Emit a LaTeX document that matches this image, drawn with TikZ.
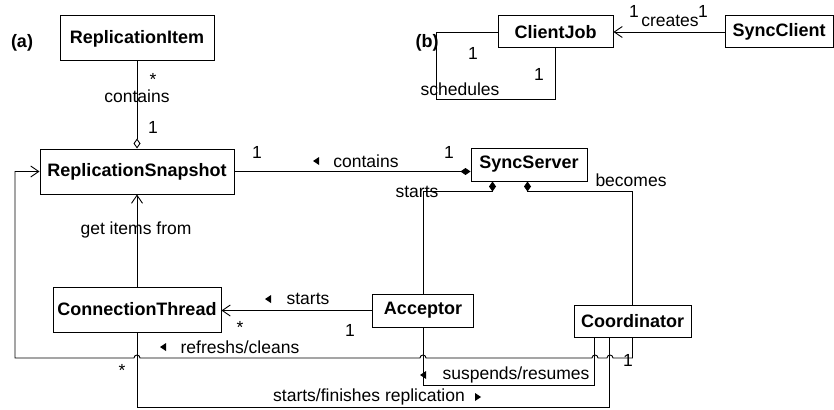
\documentclass[tikz,border=0pt]{standalone}
\usepackage{fontspec}
\setmainfont{Liberation Sans}
\usetikzlibrary{arrows.meta}
\begin{document}
\begin{tikzpicture}[x=1pt,y=-1pt,line width=0.9pt,
  cls/.style={draw,line width=1pt,inner sep=0pt,font=\fontsize{18}{20}\selectfont\bfseries},
  lbl/.style={inner sep=0pt,font=\fontsize{17.5}{20}\selectfont},
  tag/.style={inner sep=0pt,font=\fontsize{18}{20}\selectfont\bfseries},
  opena/.style={-{Straight Barb[length=8pt,width=11pt,line width=0.9pt]}},
  odia/.style={{Diamond[open,length=10pt,width=7pt,line width=0.9pt]}-},
  fdia/.style={{Diamond[length=10pt,width=7pt]}-},
  tri/.style={fill=black}]
\useasboundingbox (0,0) rectangle (834,409);

% classes
\node[cls,minimum width=154pt,minimum height=45pt] (item) at (137,38.5) {ReplicationItem};
\node[cls,minimum width=194pt,minimum height=45pt] (snap) at (137,171.5) {ReplicationSnapshot};
\node[cls,minimum width=168pt,minimum height=45pt] (conn) at (137,309.5) {ConnectionThread};
\node[cls,minimum width=116pt,minimum height=33pt] (sync) at (529,164.5) {SyncServer};
\node[cls,minimum width=101pt,minimum height=33pt] (acc) at (423,310.5) {Acceptor};
\node[cls,minimum width=117pt,minimum height=32pt] (coord) at (632.5,321) {Coordinator};
\node[cls,minimum width=115pt,minimum height=32pt] (cjob) at (555.5,32) {ClientJob};
\node[cls,minimum width=108pt,minimum height=32pt] (sclient) at (779,32) {SyncClient};

% panel tags
\node[tag] (ta) at (22,43) {(a)};
\node[tag] (tb) at (427,43) {(b)};

% connectors
\draw[odia] (snap.north) -- (item.south);
\draw[fdia] (snap.east -| sync.west) -- (snap.east);
\draw[fdia] ([xshift=22pt]sync.south west) -- ++(0,10) -| (acc.north);
\draw[fdia] ([xshift=57pt]sync.south west) -- ++(0,10) -| (coord.north);
\draw[opena] (conn.north) -- (snap.south);
\draw[opena] (acc.west) -- (acc.west -| conn.east);
\draw[opena] (coord.south) |- (613,358)
  arc[start angle=0,end angle=180,radius=3pt] -- (598,358)
  arc[start angle=0,end angle=180,radius=3pt] -- (426,358)
  arc[start angle=0,end angle=180,radius=3pt] -- (140,358)
  arc[start angle=0,end angle=180,radius=3pt] -- (15,358) |- (snap.west);
\draw ([xshift=21pt]coord.south west) -- ++(0,48) -| (acc.south);
\draw ([xshift=36pt]coord.south west) -- ++(0,70) -| (conn.south);
\draw[opena] (sclient.west) -- (cjob.east);
\draw (cjob.west) -- ++(-61,0) -- ++(0,67) -| (cjob.south);

% labels (a)
\node[lbl] (m1) at (153,79) {*};
\node[lbl] (l1) at (137,96) {contains};
\node[lbl] (m2) at (153,127) {1};
\node[lbl] (m3) at (257,152) {1};
\node[lbl] (l2) at (366,161) {contains};
\fill[tri] (313,161) -- (319,157) -- (319,165) -- cycle;
\node[lbl] (m4) at (449,152) {1};
\node[lbl] (l3) at (417,192) {starts};
\node[lbl] (l4) at (631,180) {becomes};
\node[lbl] (l5) at (136,230) {get items from};
\node[lbl] (l6) at (308,299) {starts};
\fill[tri] (265,299) -- (271,295) -- (271,303) -- cycle;
\node[lbl] (m5) at (240,327) {*};
\node[lbl] (m6) at (350,330) {1};
\node[lbl] (l7) at (240,347) {refreshs/cleans};
\fill[tri] (160,347) -- (166,343) -- (166,351) -- cycle;
\node[lbl] (m7) at (122,370) {*};
\node[lbl] (m8) at (628,360) {1};
\node[lbl] (l8) at (516,375) {suspends/resumes};
\fill[tri] (420,375) -- (426,371) -- (426,379) -- cycle;
\node[lbl] (l9) at (369,397) {starts/finishes replication};
\fill[tri] (481,397) -- (475,393) -- (475,401) -- cycle;

% labels (b)
\node[lbl] (m9) at (634,11) {1};
\node[lbl] (l10) at (670,21) {creates};
\node[lbl] (m10) at (703,11) {1};
\node[lbl] (m11) at (473,53) {1};
\node[lbl] (m12) at (539,74) {1};
\node[lbl] (l11) at (460,89) {schedules};
\end{tikzpicture}
\end{document}
